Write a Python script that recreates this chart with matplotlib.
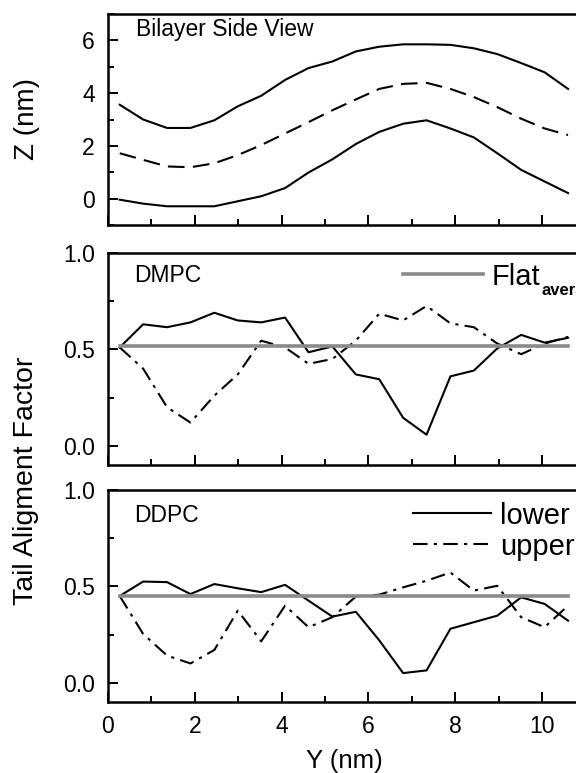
import numpy as np
import matplotlib
matplotlib.use("Agg")
import matplotlib.pyplot as plt
from matplotlib.lines import Line2D
from matplotlib.ticker import MultipleLocator, FormatStrFormatter

plt.rcParams['font.family'] = ['Liberation Sans', 'DejaVu Sans']

# lateral position along the bilayer (nm)
y_nm = [0.27, 0.81, 1.36, 1.90, 2.45, 2.99, 3.53, 4.08, 4.62, 5.17,
        5.71, 6.25, 6.80, 7.34, 7.89, 8.43, 8.97, 9.52, 10.06, 10.60]

# bilayer side view (Z in nm)
z_top = [3.56, 3.00, 2.68, 2.68, 2.97, 3.50, 3.90, 4.50, 4.95, 5.20,
         5.58, 5.76, 5.85, 5.85, 5.83, 5.70, 5.48, 5.14, 4.79, 4.16]
z_mid = [1.72, 1.47, 1.22, 1.19, 1.34, 1.65, 2.03, 2.47, 2.90, 3.35,
         3.76, 4.16, 4.35, 4.39, 4.16, 3.85, 3.47, 3.03, 2.66, 2.41]
z_bot = [-0.04, -0.19, -0.29, -0.29, -0.29, -0.10, 0.09, 0.40, 0.99, 1.49,
         2.07, 2.53, 2.84, 2.97, 2.66, 2.32, 1.72, 1.09, 0.65, 0.21]

# tail alignment factor, DMPC
dmpc_lower = [0.51, 0.63, 0.615, 0.64, 0.69, 0.65, 0.64, 0.665, 0.485, 0.515,
              0.37, 0.345, 0.145, 0.057, 0.36, 0.39, 0.505, 0.575, 0.535, 0.56]
dmpc_upper = [0.51, 0.40, 0.20, 0.12, 0.26, 0.37, 0.545, 0.51, 0.425, 0.45,
              0.545, 0.685, 0.65, 0.725, 0.635, 0.615, 0.53, 0.475, 0.53, 0.565]
dmpc_flat = 0.52

# tail alignment factor, DDPC
ddpc_lower = [0.45, 0.525, 0.522, 0.46, 0.512, 0.49, 0.47, 0.508, 0.426, 0.343,
              0.368, 0.22, 0.05, 0.064, 0.28, 0.314, 0.348, 0.443, 0.409, 0.322]
ddpc_upper = [0.45, 0.253, 0.141, 0.10, 0.17, 0.374, 0.215, 0.40, 0.288, 0.34,
              0.447, 0.457, 0.495, 0.529, 0.572, 0.478, 0.503, 0.34, 0.288, 0.40]
ddpc_flat = 0.45

gray = '#8a8a8a'
dashdot = (0, (7, 3, 1.5, 3))
lw = 1.5

fig = plt.figure(figsize=(5.76, 7.73), dpi=100)
W, H = 576.0, 773.0
left = 108 / W
width = 12 * 43.4 / W   # axis runs past the right edge of the picture
ax1 = fig.add_axes([left, 1 - 225 / H, width, 211 / H])
ax2 = fig.add_axes([left, 1 - 465 / H, width, 212 / H])
ax3 = fig.add_axes([left, 1 - 702 / H, width, 212 / H])

for ax in (ax1, ax2, ax3):
    ax.set_xlim(0, 12)
    ax.xaxis.set_major_locator(MultipleLocator(2))
    ax.xaxis.set_minor_locator(MultipleLocator(1))
    ax.tick_params(which='both', direction='in', top=False, right=False,
                   labelsize=16.5, width=1.4, pad=9.5)
    ax.tick_params(which='major', length=7)
    ax.tick_params(which='minor', length=4)
    for s in ax.spines.values():
        s.set_linewidth(1.8)

# top panel
ax1.plot(y_nm, z_top, color='black', lw=lw)
ax1.plot(y_nm, z_mid, color='black', lw=lw, linestyle=(0, (8, 4)))
ax1.plot(y_nm, z_bot, color='black', lw=lw)
ax1.set_ylim(-1, 7)
ax1.yaxis.set_major_locator(MultipleLocator(2))
ax1.yaxis.set_minor_locator(MultipleLocator(1))
ax1.tick_params(labelbottom=False)
ax1.text(0.054, 0.925, 'Bilayer Side View', transform=ax1.transAxes,
         fontsize=16.5, va='center', ha='left')

# DMPC panel
ax2.plot(y_nm, dmpc_lower, color='black', lw=lw)
ax2.plot(y_nm, dmpc_upper, color='black', lw=lw, linestyle=dashdot)
ax2.plot([y_nm[0], y_nm[-1]], [dmpc_flat, dmpc_flat], color=gray, lw=2.6)
ax2.text(0.05, 0.895, 'DMPC', transform=ax2.transAxes,
         fontsize=16.5, va='center', ha='left')
h_flat = Line2D([], [], color=gray, lw=2.6)
leg = ax2.legend([h_flat], ['Flat'], loc='upper left',
                 bbox_to_anchor=(0.566, 0.955), frameon=False, fontsize=21,
                 handlelength=2.75, handletextpad=0.3, borderpad=0, borderaxespad=0)
# bold subscript after "Flat"
ax2.annotate('average', xy=(1, 0), xycoords=leg.get_texts()[0],
             xytext=(0.5, -3.5), textcoords='offset points',
             fontsize=12, fontweight='bold', ha='left', va='baseline',
             annotation_clip=False, zorder=10)

# DDPC panel
ax3.plot(y_nm, ddpc_lower, color='black', lw=lw)
ax3.plot(y_nm, ddpc_upper, color='black', lw=lw, linestyle=dashdot)
ax3.plot([y_nm[0], y_nm[-1]], [ddpc_flat, ddpc_flat], color=gray, lw=2.6)
ax3.text(0.05, 0.88, 'DDPC', transform=ax3.transAxes,
         fontsize=16.5, va='center', ha='left')
h_low = Line2D([], [], color='black', lw=lw)
h_up = Line2D([], [], color='black', lw=lw, linestyle=dashdot)
ax3.legend([h_low, h_up], ['lower', 'upper'], loc='upper left',
           bbox_to_anchor=(0.585, 0.945), frameon=False, fontsize=21,
           handlelength=2.7, handletextpad=0.3, labelspacing=0.1,
           borderpad=0, borderaxespad=0)

for ax in (ax2, ax3):
    ax.set_ylim(-0.1, 1.0)
    ax.yaxis.set_major_locator(MultipleLocator(0.5))
    ax.yaxis.set_minor_locator(MultipleLocator(0.25))
    ax.yaxis.set_major_formatter(FormatStrFormatter('%.1f'))
ax2.tick_params(labelbottom=False)

fig.text(27 / W, 1 - 119 / H, 'Z (nm)', rotation=90,
         fontsize=20, ha='center', va='center')
fig.text(26 / W, 1 - 481 / H, 'Tail Aligment Factor', rotation=90,
         fontsize=20.5, ha='center', va='center')
fig.text(344 / W, 1 - 761 / H, 'Y (nm)', fontsize=18.5, ha='center', va='center')

fig.canvas.draw()   # place the legend first so the subscript can follow it
fig.savefig('out.png', dpi=100)
